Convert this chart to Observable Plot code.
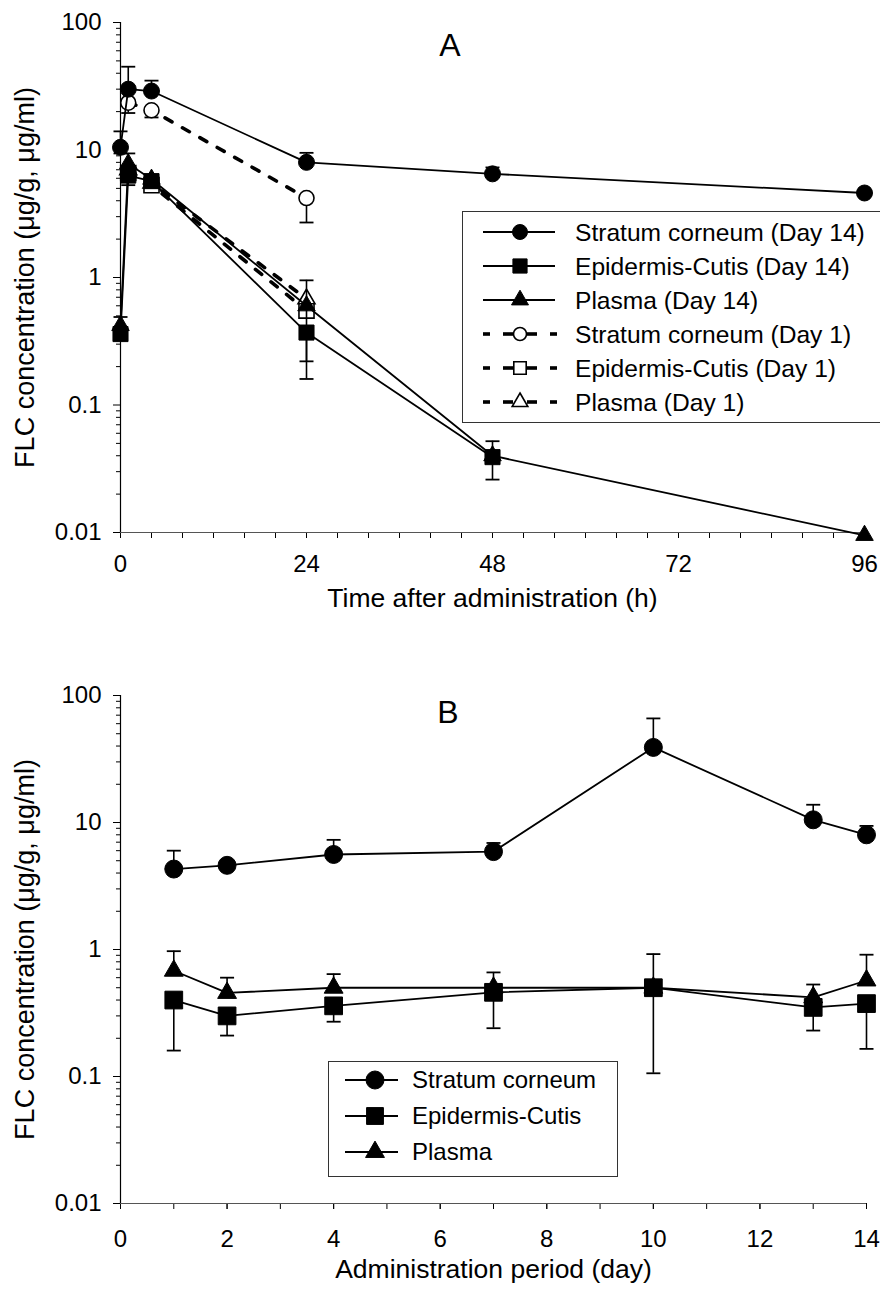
<!DOCTYPE html>
<html><head><meta charset="utf-8">
<script src="https://cdn.jsdelivr.net/npm/d3@7"></script>
<script src="https://cdn.jsdelivr.net/npm/@observablehq/plot@0.6"></script>
<style>
body{margin:0;background:#fff;}
#wrap{position:relative;width:880px;height:1292px;font-family:"Liberation Sans",Arial,sans-serif;color:#000;}
.panel{position:absolute;left:0;}
.plabel{position:absolute;font-size:32px;transform:translate(-50%,-50%);line-height:1;}
.legend{position:absolute;border:1px solid #333;background:#fff;box-sizing:border-box;}
</style></head><body><div id="wrap"></div>
<script>
// ---------- tick labels ----------
const yTickValues = [0.01, 0.1, 1, 10, 100];
const yTickLabels = ["0.01", "0.1", "1", "10", "100"];
const timeTicksA = [0, 24, 48, 72, 96];
const dayTicksB = [0, 2, 4, 6, 8, 10, 12, 14];

// ---------- panel A data (time after administration, h) ----------
const timeDay14 = [0, 1, 4, 24, 48, 96];
const scDay14   = [10.5, 30, 29, 8.0, 6.5, 4.6];
const scDay14Hi = [14, 45, 35, 9.5, 7.3, null];
const scDay14Lo = [9.4, null, null, null, null, null];
const ecDay14   = [0.36, 6.3, 5.7, 0.37, 0.039, null];
const ecDay14Hi = [0.49, null, null, null, 0.052, null];
const ecDay14Lo = [null, 5.3, null, 0.16, 0.026, null];
const plDay14   = [0.42, 7.8, 5.9, 0.6, 0.04, 0.0095];
const plDay14Hi = [null, 9.4, null, 0.95, null, null];
const plDay14Lo = [null, null, null, 0.22, null, null];

const timeDay1 = [1, 4, 24];
const scDay1   = [23.5, 20.5, 4.2];
const scDay1Lo = [19.5, 18, 2.7];
const ecDay1   = [6.6, 5.3, 0.55];
const plDay1   = [7.0, 5.5, 0.68];

// ---------- panel B data (administration period, day) ----------
const daysB = [1, 2, 4, 7, 10, 13, 14];
const scB   = [4.3, 4.6, 5.6, 5.9, 39, 10.5, 8.0];
const scBHi = [6.0, null, 7.3, 6.9, 66, 13.8, 9.4];
const ecB   = [0.40, 0.30, 0.36, 0.46, 0.50, 0.35, 0.375];
const ecBLo = [0.16, 0.21, 0.27, 0.24, 0.106, 0.23, 0.165];
const plB   = [0.68, 0.455, 0.50, 0.50, 0.50, 0.42, 0.57];
const plBHi = [0.97, 0.60, 0.64, 0.66, 0.92, 0.53, 0.91];

// ---------- helpers ----------
const FONT = '"Liberation Sans", Arial, sans-serif';
const capSymbol = {draw(ctx, size){ const w = Math.sqrt(size/Math.PI); ctx.moveTo(-w,0); ctx.lineTo(w,0); }};
const rows = (xs, vs) => xs.map((x,i)=>({x, v: vs[i]})).filter(d => d.v != null);
const errs = (xs, vs, bs) => xs.map((x,i)=>({x, v: vs[i], b: bs[i]})).filter(d => d.b != null && d.v != null);
const minorY = [];
[0.01, 0.1, 1, 10].forEach(d => { for (let k = 2; k <= 9; k++) minorY.push(+(d*k).toPrecision(3)); });
const yFmt = d => { const i = yTickValues.indexOf(d); return i < 0 ? "" : yTickLabels[i]; };

function errMarks(data, cap){
  return [
    Plot.ruleX(data, {x:"x", y1:"v", y2:"b", stroke:"black", strokeWidth:1.6}),
    Plot.dot(data, {x:"x", y:"b", symbol: capSymbol, r: cap, fill:"none", stroke:"black", strokeWidth:1.8})
  ];
}
function solid(data){ return Plot.line(data, {x:"x", y:"v", stroke:"black", strokeWidth:1.8}); }
function dashed(data){ return Plot.line(data, {x:"x", y:"v", stroke:"black", strokeWidth:3.6, strokeDasharray:"8,12"}); }
function dots(data, symbol, r, filled){
  return Plot.dot(data, {x:"x", y:"v", symbol, r, fill: filled ? "black" : "white", stroke:"black", strokeWidth: filled ? 1 : 1.6});
}

function axes(xTicks, xMinor, xLabel, xPad){
  return [
    Plot.axisY(minorY, {tickSize:4, tickFormat: () => "", label: null}),
    Plot.axisY(yTickValues, {tickSize:7, tickPadding:12, tickFormat: yFmt, fontSize:24, label: null}),
    Plot.axisY({tickSize:0, tickFormat: () => "", ticks: [], fontSize:27,
      label: "FLC concentration (μg/g, μg/ml)", labelAnchor:"center", labelArrow:"none", labelOffset: 106}),
    Plot.axisX(xMinor, {tickSize:6, tickFormat: () => "", label: null}),
    Plot.axisX(xTicks, {tickSize:6, tickPadding:xPad, fontSize:24, tickFormat: d => String(d), label: null}),
    Plot.axisX({tickSize:0, tickFormat: () => "", ticks: [], fontSize:26.5,
      label: xLabel, labelAnchor:"center", labelArrow:"none", labelOffset: 74}),
    Plot.ruleY([0.01], {stroke:"#555", strokeWidth:1.2}),
    Plot.ruleX([0], {stroke:"black", strokeWidth:1.2})
  ];
}

const wrap = document.getElementById("wrap");

// ---------- Panel A ----------
const sc14 = rows(timeDay14, scDay14), ec14 = rows(timeDay14, ecDay14), pl14 = rows(timeDay14, plDay14);
const sc1 = rows(timeDay1, scDay1), ec1 = rows(timeDay1, ecDay1), pl1 = rows(timeDay1, plDay1);
const plotA = Plot.plot({
  width: 880, height: 625,
  marginLeft: 120, marginRight: 16, marginTop: 22, marginBottom: 93,
  x: {domain: [0, 96]},
  y: {type: "log", domain: [0.01, 100]},
  style: {fontFamily: FONT, fontSize: "24px", color: "black", background: "white", overflow: "visible"},
  marks: [
    ...axes(timeTicksA, d3.range(0, 97, 4), "Time after administration (h)", 16),
    dashed(sc1), dashed(ec1), dashed(pl1),
    ...errMarks(errs(timeDay1, scDay1, scDay1Lo), 7),
    dots(sc1, "circle", 7.5, false), dots(ec1, "square", 8.5, false), dots(pl1, "triangle", 6.3, false),
    solid(sc14), solid(ec14), solid(pl14),
    ...errMarks(errs(timeDay14, scDay14, scDay14Hi), 7),
    ...errMarks(errs(timeDay14, scDay14, scDay14Lo), 7),
    ...errMarks(errs(timeDay14, ecDay14, ecDay14Hi), 7),
    ...errMarks(errs(timeDay14, ecDay14, ecDay14Lo), 7),
    ...errMarks(errs(timeDay14, plDay14, plDay14Hi), 7),
    ...errMarks(errs(timeDay14, plDay14, plDay14Lo), 7),
    dots(sc14, "circle", 8, true), dots(ec14, "square", 8.5, true), dots(pl14, "triangle", 6.5, true)
  ]
});
plotA.classList.add("panel"); plotA.style.top = "0px";
wrap.appendChild(plotA);

// ---------- Panel B ----------
const scBr = rows(daysB, scB), ecBr = rows(daysB, ecB), plBr = rows(daysB, plB);
const plotB = Plot.plot({
  width: 880, height: 667,
  marginLeft: 120, marginRight: 14, marginTop: 70, marginBottom: 89,
  x: {domain: [0, 14]},
  y: {type: "log", domain: [0.01, 100]},
  style: {fontFamily: FONT, fontSize: "24px", color: "black", background: "white", overflow: "visible"},
  marks: [
    ...axes(dayTicksB, d3.range(0, 15, 1), "Administration period (day)", 20),
    solid(scBr), solid(ecBr), solid(plBr),
    ...errMarks(errs(daysB, scB, scBHi), 7),
    ...errMarks(errs(daysB, ecB, ecBLo), 7),
    ...errMarks(errs(daysB, plB, plBHi), 7),
    dots(scBr, "circle", 9, true), dots(ecBr, "square", 10, true), dots(plBr, "triangle", 7, true)
  ]
});
plotB.classList.add("panel"); plotB.style.top = "625px";
wrap.appendChild(plotB);

// ---------- panel letters ----------
function letter(t, x, y){ const d = document.createElement("div"); d.className = "plabel"; d.textContent = t; d.style.left = x+"px"; d.style.top = y+"px"; wrap.appendChild(d); }
letter("A", 450, 45);
letter("B", 448, 712);

// ---------- legends ----------
const legendA = [
  {label: "Stratum corneum (Day 14)", symbol: d3.symbolCircle, r: 7.5, filled: true, dash: false},
  {label: "Epidermis-Cutis (Day 14)", symbol: d3.symbolSquare, r: 8, filled: true, dash: false},
  {label: "Plasma (Day 14)", symbol: d3.symbolTriangle, r: 6.3, filled: true, dash: false},
  {label: "Stratum corneum (Day 1)", symbol: d3.symbolCircle, r: 6.5, filled: false, dash: true},
  {label: "Epidermis-Cutis (Day 1)", symbol: d3.symbolSquare, r: 7, filled: false, dash: true},
  {label: "Plasma (Day 1)", symbol: d3.symbolTriangle, r: 5.8, filled: false, dash: true}
];
const legendB = [
  {label: "Stratum corneum", symbol: d3.symbolCircle, r: 9, filled: true, dash: false},
  {label: "Epidermis-Cutis", symbol: d3.symbolSquare, r: 9.5, filled: true, dash: false},
  {label: "Plasma", symbol: d3.symbolTriangle, r: 7, filled: true, dash: false}
];
function legend(items, box){
  const div = document.createElement("div");
  div.className = "legend";
  Object.assign(div.style, {left: box.left+"px", top: box.top+"px", width: box.width+"px", height: box.height+"px"});
  const svg = d3.select(div).append("svg").attr("width", box.width).attr("height", box.height)
    .style("position","absolute").style("left","-1px").style("top","-1px");
  items.forEach((it, i) => {
    const cy = box.row0 + i*box.step;
    const g = svg.append("g");
    if (it.dash) {
      box.dashSegs.forEach(([a,b]) => g.append("line").attr("x1",a).attr("x2",b).attr("y1",cy).attr("y2",cy)
        .attr("stroke","black").attr("stroke-width",3.6));
    } else {
      g.append("line").attr("x1", box.lx1).attr("x2", box.lx2).attr("y1", cy).attr("y2", cy)
        .attr("stroke","black").attr("stroke-width",1.8);
    }
    g.append("path").attr("d", d3.symbol(it.symbol, Math.PI*it.r*it.r)())
      .attr("transform", `translate(${box.mx},${cy})`)
      .attr("fill", it.filled ? "black" : "white").attr("stroke","black").attr("stroke-width", it.filled ? 1 : 1.6);
    g.append("text").attr("x", box.tx).attr("y", cy).attr("dy","0.35em")
      .attr("font-family", FONT).attr("font-size", box.fs).text(it.label);
  });
  wrap.appendChild(div);
}
legend(legendA, {left: 462, top: 211, width: 420, height: 212, row0: 21, step: 34, lx1: 21, lx2: 93, mx: 58, tx: 113, fs: 24.6,
  dashSegs: [[21,28],[41,51],[65,75],[88,95]]});
legend(legendB, {left: 328, top: 1061, width: 290, height: 116, row0: 19, step: 36, lx1: 17, lx2: 70, mx: 47, tx: 84, fs: 24,
  dashSegs: []});
</script></body></html>
